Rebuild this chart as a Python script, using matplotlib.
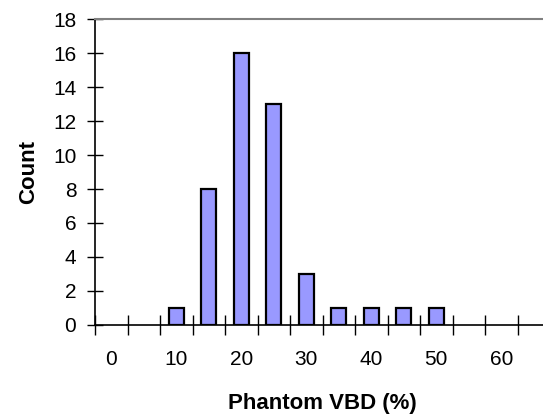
import matplotlib
matplotlib.use('Agg')
import matplotlib.pyplot as plt

# Histogram bins (Excel-style category axis) and counts
bins = [0, 5, 10, 15, 20, 25, 30, 35, 40, 45, 50, 55, 60, 65]
counts = [0, 0, 1, 8, 16, 13, 3, 1, 1, 1, 1, 0, 0, 0]
label_bins = [0, 10, 20, 30, 40, 50, 60]

plt.rcParams['font.family'] = ['Liberation Sans', 'DejaVu Sans']

fig = plt.figure(figsize=(5.43, 4.16), dpi=100)
ax = fig.add_axes([0.175, 0.219, 0.838, 0.735])

pos = list(range(len(bins)))
# only draw non-empty bins (Excel doesn't draw zero-height bars)
bx = [p for p, c in zip(pos, counts) if c > 0]
by = [c for c in counts if c > 0]
ax.bar(bx, by, width=0.46, color='#9999FF', edgecolor='black', linewidth=1.6)

ax.set_xlim(-0.5, len(bins) - 0.5)
ax.set_ylim(0, 18)
ax.set_yticks(range(0, 19, 2))

# tick marks on category boundaries, labels on every other category centre
ax.set_xticks([p - 0.5 for p in pos] + [len(bins) - 0.5])
ax.set_xticklabels([])
ax.set_xticks([bins.index(b) for b in label_bins], minor=True)
ax.set_xticklabels([str(b) for b in label_bins], minor=True)
ax.tick_params(axis='x', which='minor', length=0, pad=18, labelsize=15)
ax.tick_params(axis='x', which='major', direction='inout', length=14, width=1)
ax.tick_params(axis='y', direction='inout', length=11, width=1, labelsize=15, pad=8)

for s in ['left', 'bottom']:
    ax.spines[s].set_color('black')
    ax.spines[s].set_linewidth(1.2)
ax.spines['top'].set_color('#808080')
ax.spines['top'].set_linewidth(1.5)
ax.spines['right'].set_visible(False)

ax.set_xlabel('Phantom VBD (%)', fontsize=16, fontweight='bold', labelpad=17)
ax.set_ylabel('Count', fontsize=16, fontweight='bold', labelpad=10)

fig.savefig('out.png', dpi=100)
